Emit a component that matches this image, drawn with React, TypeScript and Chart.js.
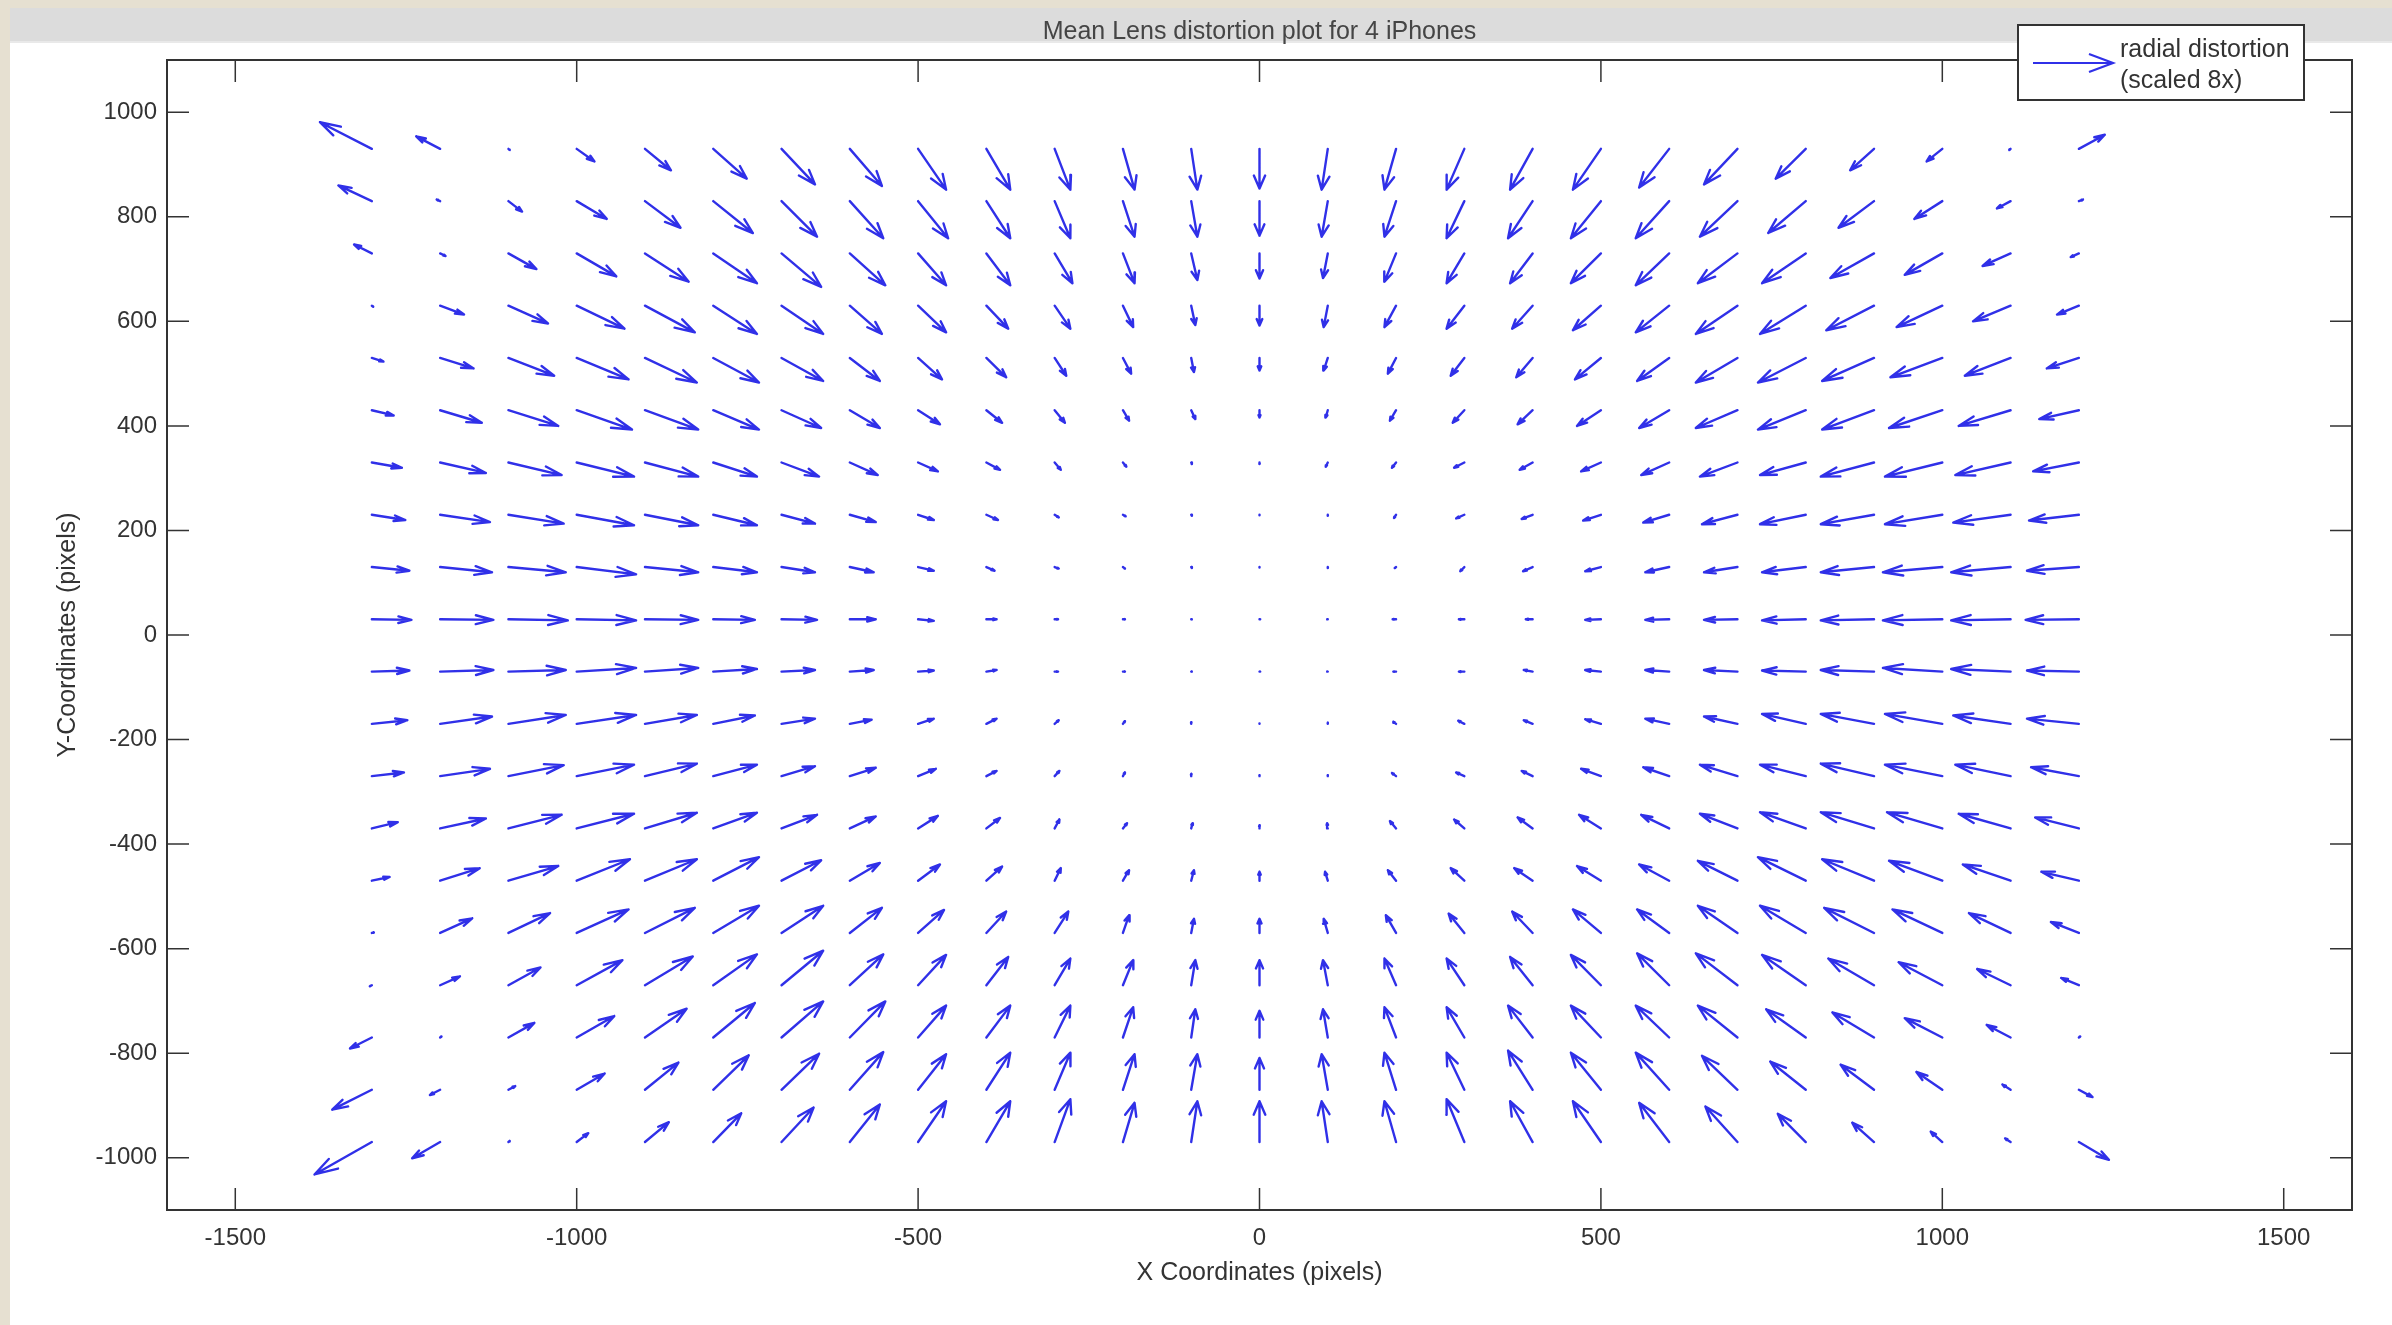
import { useEffect, useRef } from "react";
import { Chart, registerables } from "chart.js";

Chart.register(...registerables);

// Grid of arrow tails (plot units, pixels)
const COL_X = [-1300, -1200, -1100, -1000, -900, -800, -700, -600, -500, -400, -300, -200, -100, 0, 100, 200, 300, 400, 500, 600, 700, 800, 900, 1000, 1100, 1200];
const ROW_Y = [930, 830, 730, 630, 530, 430, 330, 230, 130, 30, -70, -170, -270, -370, -470, -570, -670, -770, -870, -970];

// Displayed arrow components (radial distortion scaled 8x), one row per ROW_Y entry
const U: number[][] = [
  [-76, -35, 2, 26, 38, 49, 49, 47, 41, 35, 23, 17, 9, 0, -9, -17, -26, -33, -41, -44, -49, -44, -35, -23, -2, 38],
  [-49, -5, 20, 44, 52, 58, 52, 49, 44, 35, 23, 17, 9, 0, -9, -17, -26, -36, -44, -49, -55, -55, -52, -41, -20, 6],
  [-26, 8, 41, 58, 64, 64, 58, 52, 41, 35, 26, 17, 9, 0, -7, -17, -26, -33, -44, -49, -58, -64, -64, -55, -41, -12],
  [2, 35, 58, 70, 73, 64, 61, 47, 41, 32, 23, 15, 6, 0, -6, -17, -26, -30, -41, -49, -61, -67, -70, -67, -55, -32],
  [17, 49, 67, 76, 76, 67, 61, 44, 35, 29, 17, 12, 4, 0, -6, -12, -20, -24, -38, -47, -61, -70, -76, -76, -67, -47],
  [32, 61, 73, 81, 78, 67, 58, 44, 32, 23, 15, 9, 6, 0, -3, -9, -17, -22, -35, -44, -61, -70, -76, -78, -76, -58],
  [44, 67, 78, 84, 78, 64, 55, 41, 29, 20, 9, 5, 1, 0, -3, -6, -15, -19, -29, -41, -55, -67, -78, -84, -81, -67],
  [49, 73, 81, 84, 78, 64, 49, 38, 23, 17, 6, 4, 1, 0, 0, -3, -12, -16, -26, -38, -52, -67, -78, -84, -84, -73],
  [55, 76, 84, 87, 78, 64, 49, 35, 23, 12, 6, 3, 1, 0, 0, -2, -6, -14, -23, -35, -49, -64, -78, -87, -87, -76],
  [58, 78, 87, 87, 78, 61, 52, 38, 23, 15, 5, 3, 1, 1, -1, -5, -8, -10, -23, -35, -49, -64, -78, -87, -87, -78],
  [55, 78, 84, 87, 78, 64, 49, 35, 23, 15, 5, 3, 1, 1, -1, -4, -8, -13, -23, -35, -49, -64, -78, -87, -87, -76],
  [52, 76, 84, 87, 76, 61, 49, 32, 23, 15, 6, 3, 0, 0, 0, -4, -9, -13, -23, -35, -49, -64, -78, -84, -84, -76],
  [47, 73, 81, 84, 76, 64, 49, 38, 26, 15, 7, 3, 0, 0, 0, -6, -12, -16, -29, -38, -55, -67, -78, -84, -81, -70],
  [38, 67, 78, 84, 76, 64, 52, 38, 29, 20, 7, 6, 2, 0, -1, -9, -15, -22, -32, -41, -55, -67, -78, -81, -76, -64],
  [26, 58, 73, 78, 76, 67, 58, 44, 32, 23, 9, 9, 4, 0, -4, -12, -20, -27, -35, -44, -58, -70, -76, -78, -70, -55],
  [3, 47, 61, 76, 73, 67, 61, 47, 38, 29, 20, 9, 4, 0, -6, -15, -23, -30, -41, -47, -58, -67, -73, -73, -61, -41],
  [-3, 29, 47, 67, 70, 64, 61, 49, 41, 32, 23, 15, 6, 0, -7, -17, -26, -33, -44, -47, -61, -64, -67, -64, -49, -26],
  [-32, 2, 38, 55, 61, 61, 61, 52, 41, 35, 23, 15, 6, 0, -7, -17, -26, -36, -44, -49, -58, -58, -61, -55, -35, 2],
  [-58, -15, 10, 41, 49, 52, 55, 49, 41, 35, 23, 17, 9, 0, -9, -17, -26, -36, -44, -49, -52, -52, -49, -38, -12, 20],
  [-84, -41, 2, 17, 35, 41, 47, 44, 41, 35, 23, 17, 9, 0, -9, -17, -26, -33, -41, -44, -47, -41, -32, -17, -8, 44],
];

const V: number[][] = [
  [51, 24, -2, -24, -41, -57, -68, -71, -78, -78, -78, -78, -78, -76, -78, -78, -78, -78, -78, -74, -68, -57, -41, -24, -2, 27],
  [30, 3, -20, -34, -51, -61, -68, -71, -71, -71, -71, -68, -68, -66, -68, -68, -71, -71, -71, -71, -68, -61, -51, -34, -14, 3],
  [17, -5, -30, -44, -54, -57, -64, -61, -61, -61, -57, -57, -51, -48, -47, -54, -57, -57, -57, -61, -57, -57, -47, -41, -24, -7],
  [-2, -17, -34, -44, -51, -54, -54, -54, -51, -44, -44, -41, -37, -38, -41, -41, -44, -44, -47, -51, -54, -54, -47, -41, -30, -17],
  [-7, -20, -34, -41, -47, -47, -44, -44, -41, -37, -34, -30, -27, -24, -24, -30, -34, -37, -41, -44, -47, -47, -44, -37, -34, -20],
  [-10, -24, -30, -37, -37, -37, -34, -34, -27, -24, -24, -20, -17, -14, -14, -20, -24, -27, -30, -34, -34, -37, -37, -34, -30, -17],
  [-10, -20, -24, -27, -27, -27, -27, -24, -17, -14, -14, -8, -3, -3, -8, -10, -10, -14, -17, -24, -27, -24, -27, -27, -24, -17],
  [-10, -14, -17, -20, -20, -20, -17, -14, -10, -10, -5, -3, -2, -1, -2, -6, -7, -8, -11, -15, -18, -18, -18, -18, -15, -11],
  [-7, -10, -10, -14, -10, -10, -10, -10, -7, -7, -3, -3, -2, -1, -2, -2, -8, -8, -8, -10, -10, -10, -10, -10, -10, -7],
  [-1, -1, -2, -2, -1, -1, -1, 0, -3, 0, 0, 0, 0, 0, 0, 0, 0, 0, -1, -1, -1, -2, -2, -2, -2, -1],
  [2, 3, 3, 7, 7, 5, 3, 3, 2, 3, 0, 0, 0, 0, 0, 0, 0, 3, 3, 3, 3, 2, 3, 7, 5, 2],
  [7, 14, 17, 17, 17, 16, 10, 8, 10, 10, 7, 5, 3, 1, 2, 4, 6, 7, 9, 10, 14, 19, 19, 19, 16, 10],
  [7, 14, 21, 22, 24, 22, 19, 16, 14, 10, 10, 7, 4, 2, 2, 6, 7, 10, 14, 17, 22, 22, 24, 22, 22, 17],
  [12, 19, 26, 28, 30, 30, 26, 23, 24, 20, 17, 10, 10, 6, 10, 14, 17, 21, 26, 26, 28, 31, 31, 31, 28, 21],
  [7, 24, 28, 41, 41, 45, 39, 34, 31, 27, 24, 20, 20, 17, 17, 20, 24, 24, 28, 31, 38, 45, 41, 38, 31, 17],
  [1, 28, 38, 45, 48, 52, 52, 48, 44, 41, 41, 34, 27, 27, 27, 34, 37, 41, 45, 45, 52, 52, 48, 45, 38, 21],
  [-2, 17, 34, 48, 55, 59, 66, 59, 58, 54, 51, 48, 48, 48, 48, 51, 51, 54, 58, 61, 61, 58, 51, 44, 31, 14],
  [-21, 2, 28, 41, 55, 66, 69, 69, 61, 61, 61, 58, 54, 51, 54, 58, 58, 61, 61, 61, 61, 54, 48, 37, 24, 2],
  [-38, -10, 7, 31, 52, 66, 69, 72, 68, 71, 71, 68, 68, 61, 68, 71, 71, 75, 71, 71, 65, 54, 48, 34, 10, -14],
  [-62, -31, 2, 17, 38, 55, 66, 72, 78, 78, 82, 75, 78, 78, 78, 78, 82, 78, 78, 75, 68, 54, 37, 20, 7, -34],
];

const X_TICKS = [-1500, -1000, -500, 0, 500, 1000, 1500];
const Y_TICKS = [-1000, -800, -600, -400, -200, 0, 200, 400, 600, 800, 1000];

const TITLE = "Mean Lens distortion plot for 4 iPhones";
const X_LABEL = "X Coordinates (pixels)";
const Y_LABEL = "Y-Coordinates (pixels)";
const LEGEND_LINES = ["radial distortion", "(scaled 8x)"];

const W = 2392;
const H = 1325;
const FONT = '"Liberation Sans", Arial, Helvetica, sans-serif';
const ARROW_COLOR = "rgb(48,48,232)";
const FRAME_COLOR = "#333333";
const TEXT_COLOR = "#333333";
const HEAD_ALPHA = 0.33;
const HEAD_BETA = 0.33;
const TICK_LEN = 22;

type Pt = { x: number; y: number };
const GAP: Pt = { x: NaN, y: NaN };

function buildArrowPoints(): Pt[] {
  const pts: Pt[] = [];
  ROW_Y.forEach((y, i) => {
    COL_X.forEach((x, j) => {
      const u = U[i][j];
      const v = V[i][j];
      const tx = x + u;
      const ty = y + v;
      pts.push({ x, y }, { x: tx, y: ty }, { ...GAP });
      pts.push(
        { x: tx - HEAD_ALPHA * (u + HEAD_BETA * v), y: ty - HEAD_ALPHA * (v - HEAD_BETA * u) },
        { x: tx, y: ty },
        { x: tx - HEAD_ALPHA * (u - HEAD_BETA * v), y: ty - HEAD_ALPHA * (v + HEAD_BETA * u) },
        { ...GAP }
      );
    });
  });
  return pts;
}

const backgroundPlugin = {
  id: "pageBackground",
  beforeDraw(chart: any) {
    const ctx = chart.ctx;
    ctx.save();
    ctx.fillStyle = "#ffffff";
    ctx.fillRect(0, 0, W, H);
    ctx.fillStyle = "#dcdcdc";
    ctx.fillRect(10, 8, W - 10, 33);
    ctx.fillStyle = "#e9e9e9";
    ctx.fillRect(10, 41, W - 10, 2);
    ctx.fillStyle = "#e6e0d1";
    ctx.fillRect(0, 0, W, 8);
    ctx.fillRect(0, 0, 10, H);
    ctx.restore();
  },
};

const framePlugin = {
  id: "matlabFrame",
  afterDatasetsDraw(chart: any) {
    const { ctx, chartArea: a, scales } = chart;
    const xs = scales.x;
    const ys = scales.y;
    ctx.save();
    ctx.strokeStyle = FRAME_COLOR;
    ctx.lineWidth = 2;
    ctx.strokeRect(a.left, a.top, a.right - a.left, a.bottom - a.top);
    ctx.lineWidth = 1.5;
    ctx.beginPath();
    X_TICKS.forEach((v) => {
      const px = xs.getPixelForValue(v);
      ctx.moveTo(px, a.bottom);
      ctx.lineTo(px, a.bottom - TICK_LEN);
      ctx.moveTo(px, a.top);
      ctx.lineTo(px, a.top + TICK_LEN);
    });
    Y_TICKS.forEach((v) => {
      const py = ys.getPixelForValue(v);
      ctx.moveTo(a.left, py);
      ctx.lineTo(a.left + TICK_LEN, py);
      ctx.moveTo(a.right, py);
      ctx.lineTo(a.right - TICK_LEN, py);
    });
    ctx.stroke();
    ctx.restore();
  },
};

const legendPlugin = {
  id: "quiverLegend",
  afterDraw(chart: any) {
    const ctx = chart.ctx;
    const bx = 2018;
    const by = 25;
    const bw = 286;
    const bh = 75;
    ctx.save();
    ctx.fillStyle = "#ffffff";
    ctx.fillRect(bx, by, bw, bh);
    ctx.strokeStyle = FRAME_COLOR;
    ctx.lineWidth = 2;
    ctx.strokeRect(bx, by, bw, bh);
    const x0 = 2033;
    const x1 = 2113;
    const yA = 63;
    ctx.strokeStyle = ARROW_COLOR;
    ctx.lineWidth = 2.2;
    ctx.beginPath();
    ctx.moveTo(x0, yA);
    ctx.lineTo(x1, yA);
    ctx.moveTo(x1 - 24, yA - 9);
    ctx.lineTo(x1, yA);
    ctx.lineTo(x1 - 24, yA + 9);
    ctx.stroke();
    ctx.fillStyle = TEXT_COLOR;
    ctx.font = `25px ${FONT}`;
    ctx.textAlign = "left";
    ctx.textBaseline = "middle";
    ctx.fillText(LEGEND_LINES[0], 2120, 50);
    ctx.fillText(LEGEND_LINES[1], 2120, 81);
    ctx.restore();
  },
};

export default function App() {
  const ref = useRef<HTMLCanvasElement>(null);

  useEffect(() => {
    document.body.style.margin = "0";
    const canvas = ref.current;
    if (!canvas) return;
    const chart = new Chart(canvas, {
      type: "scatter",
      data: {
        datasets: [
          {
            label: "radial distortion",
            data: buildArrowPoints() as any,
            showLine: true,
            spanGaps: false,
            borderColor: ARROW_COLOR,
            backgroundColor: ARROW_COLOR,
            borderWidth: 2.4,
            borderCapStyle: "round",
            borderJoinStyle: "round",
            pointRadius: 0,
            pointHoverRadius: 0,
            tension: 0,
            fill: false,
          } as any,
        ],
      },
      options: {
        responsive: false,
        animation: false,
        devicePixelRatio: 1,
        events: [],
        layout: { padding: { left: 0, right: 40, top: 0, bottom: 0 } },
        plugins: {
          legend: { display: false },
          tooltip: { enabled: false },
          title: {
            display: true,
            text: TITLE,
            fullSize: false,
            color: "#454545",
            font: { family: FONT, size: 25, weight: "normal" as any },
            padding: { top: 17, bottom: 13 },
          },
        },
        scales: {
          x: {
            type: "linear",
            min: -1600,
            max: 1600,
            afterBuildTicks: (s: any) => {
              s.ticks = X_TICKS.map((v) => ({ value: v }));
            },
            afterFit: (s: any) => {
              s.height = 115;
            },
            grid: { display: false, drawTicks: false },
            border: { display: false },
            ticks: {
              autoSkip: false,
              maxRotation: 0,
              padding: 14,
              color: TEXT_COLOR,
              font: { family: FONT, size: 24 },
              callback: (v: any) => String(v),
            },
            title: {
              display: true,
              text: X_LABEL,
              color: TEXT_COLOR,
              font: { family: FONT, size: 25 },
              padding: { top: 0, bottom: 37 },
            },
          },
          y: {
            type: "linear",
            min: -1100,
            max: 1100,
            afterBuildTicks: (s: any) => {
              s.ticks = Y_TICKS.map((v) => ({ value: v }));
            },
            afterFit: (s: any) => {
              s.width = 167;
            },
            grid: { display: false, drawTicks: false },
            border: { display: false },
            ticks: {
              autoSkip: false,
              padding: 10,
              color: TEXT_COLOR,
              font: { family: FONT, size: 24 },
              callback: (v: any) => String(v),
            },
            title: {
              display: true,
              text: Y_LABEL,
              color: TEXT_COLOR,
              font: { family: FONT, size: 25 },
              padding: { top: 53, bottom: 0 },
            },
          },
        },
      },
      plugins: [backgroundPlugin, framePlugin, legendPlugin],
    });
    return () => chart.destroy();
  }, []);

  return (
    <div style={{ position: "absolute", left: 0, top: 0, width: W, height: H }}>
      <canvas ref={ref} width={W} height={H} style={{ display: "block" }} />
    </div>
  );
}
